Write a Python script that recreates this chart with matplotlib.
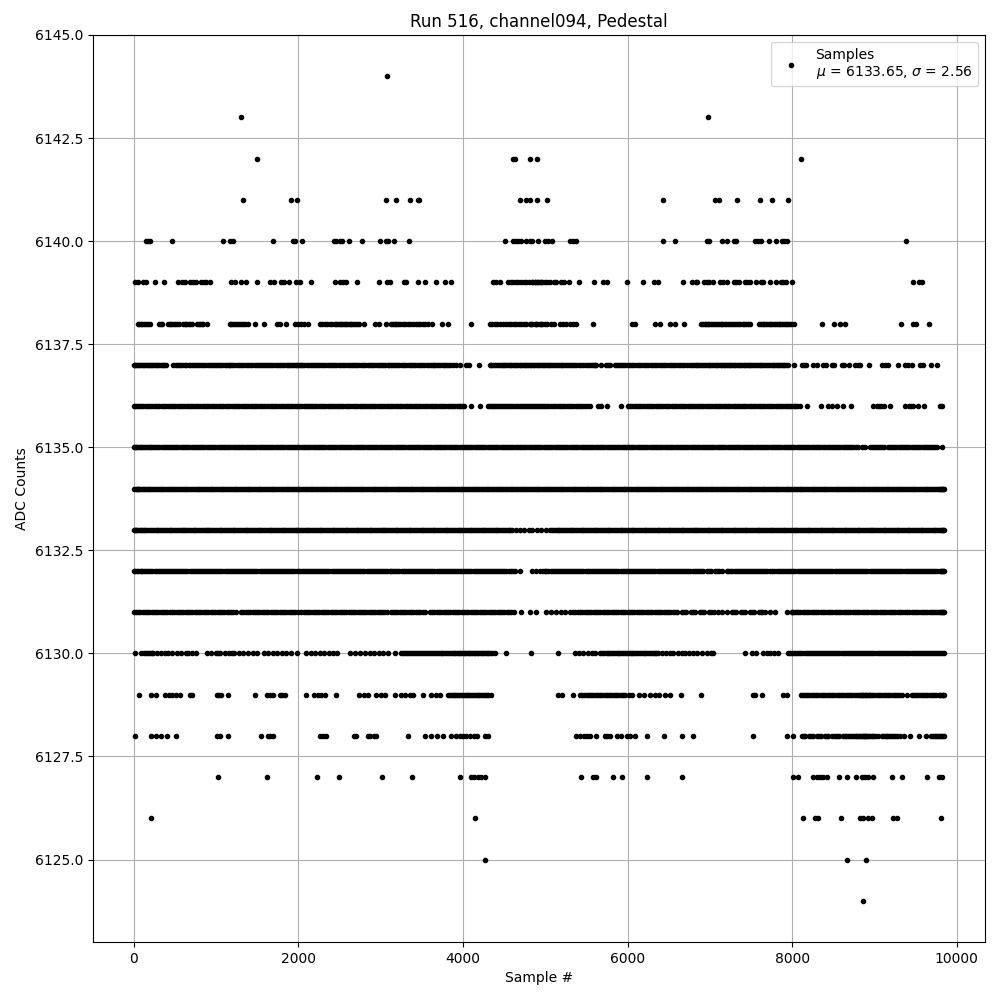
import matplotlib
matplotlib.use("Agg")
import matplotlib.pyplot as plt

s6144 = [3078]
s6143 = [1308, 6980]
s6142 = [1503, 4610, 4630, 4810, 4895, 8110]
s6141 = [1332, 4698, 4763, 4820, 4905, 5024, 1912, 1980, 3070, 3190, 3362, 3450, 3470, 6433, 7065, 7114, 7332, 7612, 7758, 7952]
s6140 = [154, 174, 202, 470, 1089, 1175, 1207, 1697, 1936, 1964, 2049, 2430, 2462, 2503, 2535, 2620, 2778, 2997,
         3062, 3086, 3159, 3349, 4516, 4609, 4641, 4670, 4702, 4763, 4820, 4844, 4915, 4996, 5036, 5077, 5307, 5340,
         5372, 6433, 6579, 6960, 6988, 7146, 7203, 7292, 7316, 7547, 7580, 7620, 7721, 7806, 7871, 7904, 7932, 9386]
s6139 = [20, 53, 113, 154, 263, 373, 539, 591, 620, 689, 721, 761, 822, 850, 883, 923, 1187, 1227, 1308, 1361, 1503,
         1652, 1701, 1794, 1822, 1883, 1976, 2017, 2150, 2450, 2511, 2543, 2584, 2717, 2985, 3078, 3110, 3280, 3313,
         3459, 3544, 3669, 3783, 3852, 4366, 4406, 4455, 4548, 4580, 4609, 4641, 4673, 4710, 4738, 4771, 4803, 4835,
         4871, 4912, 4953, 4845, 4874, 4904, 4935, 4965, 4996, 5025, 5056, 5105, 5137, 5198, 5230, 5291, 5413, 5595,
         5704, 5757, 5996, 6190, 6320, 6365, 6680, 6778, 6826, 6846, 6927, 6960, 6992, 7033, 7122, 7154, 7211, 7292,
         7324, 7356, 7426, 7454, 7486, 7555, 7616, 7648, 7729, 7798, 7859, 7891, 7924, 7993, 9471, 9544, 9572]
s6138 = [53, 85, 121, 154, 202, 308, 348, 417, 458, 498, 547, 599, 640, 680, 713, 770, 810, 842, 891, 1166, 1207, 1255,
         1300, 1349, 1389, 1470, 1580, 1741, 1774, 1855, 1960, 1997, 2037, 2066, 2122, 2268, 2321, 2381, 2442, 2483,
         2523, 2564, 2604, 2645, 2685, 2734, 2795, 2928, 2981, 3070, 3131, 3171, 3212, 3272, 3333, 3394, 3455, 3515,
         3576, 3629, 3746, 3819, 4103, 4325, 4386, 4455, 4528, 4589, 4650, 4710, 4771, 4832, 4892, 4953, 4813, 4846,
         4874, 4902, 4935, 4967, 4996, 5024, 5076, 5105, 5186, 5218, 5259, 5299, 5332, 5372, 5583, 6049, 6089, 6332,
         6393, 6514, 6575, 6684, 6895, 6936, 6976, 7017, 7057, 7110, 7150, 7199, 7239, 7288, 7340, 7401, 7442, 7490,
         7600, 7640, 7685, 7725, 7770, 7815, 7855, 7900, 7940, 7985, 8020, 8360, 8514, 8585, 8646, 9324, 9470, 9510, 9662]
s6137 = [0, 35, 72, 110, 148, 190, 228, 270, 312, 352, 395, 478, 518, 565, 620, 668, 720, 770, 815, 870, 925, 975, 1030,
         1080, 1130, 1175, 1225, 1280, 1335, 1385, 1440, 1495, 1550, 1600, 1650, 1700, 1750, 1805, 1860, 1905, 1950, 1985,
         2030, 2075, 2130, 2180, 2225, 2275, 2330, 2385, 2440, 2490, 2545, 2600, 2655, 2705, 2760, 2815, 2870, 2925,
         2980, 3030, 3085, 3130, 3175, 3230, 3285, 3340, 3395, 3450, 3505, 3560, 3615, 3655, 3677, 3725, 3758, 3799, 3850,
         3885, 3920, 3960, 4042, 4070, 4196, 4325, 4370, 4415, 4460, 4505, 4545, 4590, 4630, 4670, 4710, 4750, 4790, 4830,
         4870, 4910, 4950, 4990, 5030, 5075, 5120, 5165, 5210, 5255, 5305, 5355, 5405, 5460, 5515, 5570, 5623, 5684, 5735,
         5785, 5846, 5900, 5950, 6005, 6060, 6115, 6170, 6225, 6280, 6335, 6390, 6445, 6500, 6555, 6610, 6665, 6717, 6757,
         6805, 6850, 6895, 6940, 6985, 7025, 7070, 7110, 7150, 7190, 7230, 7270, 7310, 7350, 7390, 7430, 7470, 7515, 7560,
         7605, 7650, 7695, 7740, 7785, 7825, 7865, 7905, 7952, 8020, 8114, 8140, 8170, 8250, 8296, 8380, 8410, 8480, 8507,
         8600, 8625, 8693, 8762, 8795, 8823, 8928, 9086, 9125, 9167, 9289, 9370, 9410, 9450, 9552, 9592, 9686, 9763]
s6136 = [0, 45, 95, 150, 205, 260, 315, 370, 425, 480, 535, 590, 645, 700, 755, 810, 865, 920, 975, 1037, 1065, 1120,
         1175, 1230, 1285, 1340, 1395, 1450, 1505, 1560, 1620, 1652, 1710, 1765, 1820, 1875, 1930, 1985, 2040, 2095, 2145,
         2191, 2219, 2275, 2330, 2385, 2440, 2495, 2550, 2605, 2660, 2715, 2770, 2825, 2880, 2935, 2990, 3045, 3100, 3155,
         3210, 3265, 3320, 3375, 3430, 3485, 3540, 3595, 3650, 3705, 3760, 3815, 3870, 3925, 3970, 4010, 4103, 4204, 4305,
         4350, 4395, 4440, 4490, 4540, 4590, 4640, 4690, 4740, 4790, 4840, 4890, 4940, 4990, 5040, 5095, 5150, 5205, 5260,
         5315, 5370, 5425, 5480, 5542, 5644, 5684, 5753, 5927, 6008, 6060, 6115, 6170, 6231, 6263, 6315, 6370, 6425, 6480,
         6535, 6590, 6645, 6700, 6755, 6810, 6865, 6920, 6975, 7030, 7085, 7140, 7195, 7250, 7305, 7360, 7415, 7470, 7525,
         7580, 7635, 7690, 7745, 7800, 7855, 7910, 7965, 8020, 8060, 8094, 8183, 8349, 8438, 8490, 8539, 8612, 8709, 8985,
         9030, 9075, 9114, 9187, 9370, 9420, 9471, 9532, 9605, 9800, 9820]
s6135 = [0, 30, 65, 105, 150, 195, 240, 290, 340, 390, 440, 495, 545, 600, 650, 705, 755, 810, 860, 915, 965, 1020, 1070,
         1125, 1175, 1230, 1280, 1335, 1385, 1440, 1490, 1545, 1595, 1650, 1700, 1755, 1805, 1860, 1910, 1965, 2015, 2070,
         2120, 2175, 2225, 2280, 2330, 2385, 2435, 2490, 2540, 2595, 2645, 2700, 2750, 2805, 2855, 2910, 2960, 3015, 3065,
         3120, 3170, 3225, 3275, 3330, 3380, 3435, 3485, 3540, 3590, 3645, 3695, 3750, 3800, 3855, 3905, 3960, 4010, 4065,
         4115, 4170, 4220, 4275, 4325, 4380, 4430, 4485, 4535, 4590, 4640, 4695, 4745, 4800, 4850, 4905, 4955, 5010, 5060,
         5115, 5165, 5220, 5270, 5325, 5375, 5430, 5480, 5535, 5585, 5640, 5690, 5745, 5795, 5850, 5900, 5955, 6005, 6060,
         6110, 6165, 6215, 6270, 6320, 6375, 6425, 6480, 6530, 6585, 6635, 6690, 6740, 6795, 6845, 6900, 6950, 7005, 7055,
         7110, 7160, 7215, 7265, 7320, 7370, 7425, 7475, 7530, 7580, 7635, 7685, 7740, 7790, 7845, 7895, 7950, 8000, 8055,
         8105, 8160, 8210, 8265, 8315, 8370, 8395, 8430, 8480, 8535, 8585, 8640, 8690, 8745, 8800, 8845, 8885, 8940, 8990,
         9040, 9090, 9115, 9160, 9210, 9265, 9320, 9370, 9425, 9475, 9530, 9585, 9640, 9690, 9740, 9763, 9815]
s6134 = [0, 25, 55, 90, 130, 170, 215, 260, 305, 350, 395, 440, 485, 530, 575, 620, 665, 710, 755, 800, 845, 890, 935, 980,
         1025, 1070, 1115, 1160, 1205, 1250, 1295, 1340, 1385, 1430, 1475, 1520, 1565, 1610, 1655, 1700, 1745, 1790, 1835,
         1880, 1925, 1970, 2015, 2060, 2105, 2150, 2195, 2240, 2285, 2330, 2375, 2420, 2465, 2510, 2555, 2600, 2645, 2690,
         2735, 2780, 2825, 2870, 2915, 2960, 3005, 3050, 3095, 3140, 3185, 3230, 3275, 3320, 3365, 3410, 3455, 3500, 3545,
         3590, 3635, 3680, 3725, 3770, 3815, 3860, 3905, 3950, 3995, 4040, 4085, 4130, 4175, 4220, 4265, 4310, 4355, 4400,
         4445, 4490, 4535, 4580, 4625, 4670, 4715, 4760, 4805, 4850, 4895, 4940, 4985, 5030, 5075, 5120, 5165, 5210, 5255,
         5300, 5345, 5390, 5435, 5480, 5525, 5570, 5615, 5660, 5705, 5750, 5795, 5840, 5885, 5930, 5975, 6020, 6065, 6110,
         6155, 6200, 6245, 6290, 6335, 6380, 6425, 6470, 6515, 6560, 6605, 6650, 6695, 6740, 6785, 6830, 6875, 6920, 6965,
         7010, 7055, 7100, 7145, 7190, 7235, 7280, 7325, 7370, 7415, 7460, 7505, 7550, 7595, 7640, 7685, 7730, 7775, 7820,
         7865, 7910, 7955, 8000, 8045, 8090, 8135, 8180, 8225, 8270, 8315, 8360, 8405, 8450, 8495, 8540, 8585, 8630, 8675,
         8720, 8765, 8810, 8855, 8900, 8945, 8990, 9035, 9080, 9125, 9170, 9215, 9260, 9305, 9350, 9395, 9440, 9485, 9530,
         9575, 9620, 9665, 9710, 9755, 9800, 9825, 9850]
s6133 = [0, 30, 65, 105, 145, 190, 235, 280, 325, 370, 415, 460, 505, 550, 595, 640, 685, 730, 775, 820, 865, 910, 955,
         1000, 1045, 1090, 1135, 1180, 1225, 1270, 1315, 1360, 1405, 1450, 1495, 1540, 1585, 1630, 1675, 1720, 1765, 1810,
         1855, 1900, 1945, 1990, 2035, 2080, 2125, 2170, 2215, 2260, 2305, 2350, 2395, 2440, 2485, 2530, 2575, 2620, 2665,
         2710, 2755, 2800, 2845, 2890, 2935, 2980, 3025, 3070, 3115, 3160, 3205, 3250, 3295, 3340, 3385, 3430, 3475, 3520,
         3565, 3610, 3655, 3700, 3745, 3790, 3835, 3880, 3925, 3970, 4015, 4060, 4105, 4150, 4195, 4240, 4285, 4330, 4375,
         4420, 4465, 4510, 4555, 4600, 4645, 4690, 4745, 4800, 4845, 4900, 4955, 5010, 5060, 5105, 5150, 5195, 5240, 5285,
         5330, 5375, 5420, 5465, 5510, 5555, 5600, 5645, 5690, 5735, 5780, 5825, 5870, 5915, 5960, 6005, 6050, 6095, 6140,
         6185, 6230, 6275, 6320, 6365, 6410, 6455, 6500, 6545, 6590, 6635, 6680, 6725, 6770, 6815, 6860, 6905, 6950, 6995,
         7040, 7085, 7130, 7175, 7220, 7265, 7310, 7355, 7400, 7445, 7490, 7535, 7580, 7625, 7670, 7715, 7760, 7805, 7850,
         7895, 7940, 7985, 8030, 8075, 8120, 8165, 8210, 8255, 8300, 8345, 8390, 8435, 8480, 8525, 8570, 8615, 8660, 8705,
         8750, 8795, 8840, 8885, 8930, 8975, 9020, 9065, 9110, 9155, 9200, 9245, 9290, 9335, 9380, 9425, 9470, 9515, 9560,
         9605, 9650, 9695, 9740, 9785, 9825, 9850]
s6132 = [0, 40, 85, 130, 180, 230, 280, 330, 380, 430, 480, 530, 580, 630, 680, 730, 780, 830, 880, 930, 980, 1030, 1080,
         1130, 1180, 1230, 1280, 1330, 1380, 1430, 1480, 1530, 1580, 1630, 1680, 1730, 1780, 1830, 1880, 1930, 1980, 2030,
         2080, 2130, 2180, 2230, 2280, 2330, 2380, 2430, 2480, 2530, 2580, 2630, 2680, 2730, 2780, 2830, 2880, 2930, 2980,
         3030, 3075, 3110, 3131, 3180, 3230, 3280, 3330, 3380, 3430, 3480, 3530, 3580, 3630, 3680, 3730, 3780, 3830, 3880,
         3930, 3980, 4030, 4080, 4130, 4180, 4230, 4280, 4330, 4380, 4430, 4480, 4530, 4580, 4630, 4690, 4845, 4890, 4935,
         4973, 4995, 5015, 5065, 5115, 5165, 5215, 5265, 5315, 5365, 5415, 5465, 5515, 5565, 5615, 5665, 5715, 5765, 5815,
         5865, 5915, 5965, 6015, 6065, 6115, 6165, 6215, 6265, 6315, 6365, 6415, 6465, 6515, 6565, 6615, 6665, 6715, 6765,
         6815, 6865, 6915, 6965, 7015, 7065, 7115, 7142, 7203, 7250, 7300, 7350, 7400, 7450, 7500, 7550, 7600, 7650, 7700,
         7750, 7810, 7843, 7890, 7940, 7990, 8040, 8090, 8140, 8190, 8240, 8290, 8340, 8390, 8440, 8490, 8540, 8590, 8640,
         8690, 8740, 8790, 8840, 8890, 8940, 8990, 9040, 9090, 9140, 9190, 9240, 9290, 9340, 9390, 9440, 9490, 9540, 9590,
         9640, 9690, 9740, 9790, 9825, 9850]
s6131 = [0, 55, 110, 165, 220, 275, 330, 385, 440, 495, 550, 605, 660, 715, 770, 825, 880, 935, 990, 1045, 1100, 1155,
         1205, 1247, 1308, 1360, 1415, 1470, 1525, 1580, 1635, 1690, 1745, 1800, 1855, 1910, 1960, 1997, 2037, 2090, 2145,
         2200, 2255, 2310, 2365, 2420, 2475, 2530, 2585, 2640, 2690, 2726, 2746, 2800, 2855, 2910, 2965, 3020, 3075, 3131,
         3151, 3205, 3260, 3315, 3370, 3425, 3480, 3535, 3596, 3629, 3680, 3735, 3790, 3845, 3900, 3955, 4010, 4065, 4120,
         4175, 4230, 4285, 4340, 4395, 4450, 4505, 4560, 4617, 4710, 4811, 4892, 5016, 5075, 5135, 5198, 5239, 5300, 5340,
         5395, 5450, 5505, 5560, 5615, 5670, 5725, 5780, 5835, 5890, 5945, 6000, 6055, 6110, 6165, 6220, 6275, 6330, 6385,
         6440, 6495, 6550, 6605, 6660, 6715, 6770, 6825, 6880, 6935, 6990, 7045, 7100, 7142, 7203, 7264, 7320, 7375, 7430,
         7485, 7540, 7595, 7628, 7669, 7730, 7790, 7932, 7993, 8045, 8100, 8155, 8210, 8265, 8320, 8375, 8430, 8485, 8540,
         8595, 8650, 8705, 8760, 8815, 8870, 8925, 8980, 9035, 9090, 9145, 9200, 9255, 9310, 9365, 9420, 9475, 9530, 9585,
         9640, 9695, 9750, 9800, 9825, 9850]
s6130 = [20, 93, 154, 200, 240, 280, 330, 377, 417, 470, 525, 580, 632, 660, 710, 761, 891, 945, 1000, 1055, 1110, 1165,
         1220, 1275, 1328, 1389, 1445, 1500, 1580, 1632, 1690, 1745, 1800, 1850, 1915, 1985, 2098, 2150, 2199, 2260, 2315,
         2370, 2422, 2475, 2624, 2685, 2746, 2807, 2867, 2925, 2980, 3035, 3090, 3171, 3252, 3300, 3345, 3395, 3440, 3490,
         3540, 3590, 3640, 3685, 3730, 3775, 3820, 3865, 3910, 3950, 3990, 4030, 4070, 4110, 4150, 4190, 4230, 4270, 4310,
         4350, 4386, 4524, 4832, 5150, 5360, 5415, 5465, 5515, 5563, 5603, 5664, 5696, 5745, 5790, 5835, 5880, 5925, 5970,
         6015, 6060, 6105, 6150, 6195, 6240, 6285, 6332, 6373, 6420, 6465, 6514, 6555, 6615, 6660, 6700, 6750, 6800, 6850,
         6910, 6960, 7020, 7041, 7426, 7507, 7559, 7648, 7690, 7735, 7780, 7830, 7952, 8000, 8050, 8100, 8150, 8200, 8250,
         8300, 8350, 8400, 8450, 8500, 8550, 8600, 8650, 8700, 8750, 8800, 8850, 8900, 8950, 9000, 9050, 9100, 9150, 9200,
         9250, 9300, 9350, 9400, 9450, 9500, 9550, 9600, 9650, 9700, 9750, 9800, 9850]
s6129 = [61, 215, 275, 377, 425, 470, 510, 567, 680, 713, 1012, 1040, 1065, 1150, 1478, 1620, 1652, 1697, 1774, 1805, 1835,
         2098, 2187, 2235, 2280, 2321, 2462, 2738, 2794, 2847, 2940, 3009, 3050, 3179, 3252, 3293, 3353, 3394, 3515, 3617,
         3669, 3726, 3819, 3865, 3910, 3955, 4000, 4045, 4090, 4135, 4180, 4225, 4270, 4310, 4346, 5158, 5206, 5332, 5421,
         5475, 5530, 5585, 5640, 5695, 5750, 5805, 5860, 5915, 5970, 6015, 6049, 6142, 6200, 6279, 6332, 6385, 6450, 6514,
         6652, 6895, 7519, 7547, 7628, 7891, 7932, 8102, 8155, 8210, 8265, 8320, 8375, 8430, 8485, 8540, 8595, 8650, 8705,
         8760, 8815, 8850, 8880, 8910, 8945, 9000, 9055, 9110, 9165, 9220, 9275, 9330, 9390, 9450, 9505, 9560, 9615, 9670,
         9725, 9780, 9815, 9850]
s6128 = [20, 215, 275, 328, 409, 510, 1012, 1053, 1150, 1551, 1632, 1662, 1693, 2260, 2300, 2341, 2673, 2697, 2847, 2875,
         2920, 2948, 3337, 3544, 3617, 3686, 3758, 3860, 3920, 3960, 4000, 4042, 4085, 4130, 4170, 4265, 4305, 5380, 5425,
         5470, 5510, 5542, 5623, 5725, 5755, 5785, 5874, 5927, 5988, 6028, 6093, 6239, 6445, 6664, 6798, 7527, 7940, 8013,
         8114, 8160, 8205, 8250, 8300, 8345, 8395, 8440, 8479, 8520, 8570, 8615, 8660, 8705, 8750, 8790, 8830, 8860, 8885,
         8915, 8945, 8985, 9040, 9090, 9135, 9180, 9230, 9270, 9310, 9355, 9430, 9535, 9630, 9690, 9730, 9770, 9810, 9850]
s6127 = [1029, 1624, 2232, 2499, 3021, 3386, 3961, 4103, 4140, 4185, 4225, 4265, 5437, 5583, 5623, 5818, 5935, 6239, 6664,
         8013, 8074, 8256, 8300, 8340, 8380, 8418, 8572, 8669, 8770, 8843, 8880, 8920, 8985, 9216, 9329, 9633, 9787, 9820]
s6126 = [215, 4143, 8134, 8276, 8317, 8596, 8823, 8860, 8924, 8965, 9228, 9268, 9803]
s6125 = [4265, 8669, 8900]
s6124 = [8864]

more6138 = [70, 102, 175, 328, 438, 478, 522, 622, 660, 790, 826, 1186, 1228, 1278, 1325, 2295, 2352, 2412, 2462, 2503,
            2544, 2585, 2625, 2665, 2710, 3152, 3192, 3242, 3302, 3364, 3425, 3485, 3546, 4356, 4420, 4490, 4558, 4620,
            4680, 4740, 6915, 6956, 6996, 7037, 7083, 7130, 7175, 7219, 7264, 7314, 7370, 7421, 7466, 7620, 7662, 7705,
            7748, 7792, 7835, 7878, 7920, 7962]
more6137 = [15, 90, 170, 250, 330, 590, 695, 845, 950, 1055, 1155, 1255, 1360, 1470, 1575, 1675, 1780, 1880, 1968, 2052,
            2155, 2250, 2360, 2465, 2570, 2680, 2785, 2895, 3005, 3108, 3205, 3315, 3420, 3530, 3635, 3825, 4345, 4438, 4525,
            4610, 4690, 4770, 4850, 4930, 5010, 5098, 5190, 5280, 5380, 5490, 5595, 5875, 5975, 6085, 6195, 6310, 6420,
            6530, 6640, 6780, 6870, 6960, 7048, 7130, 7210, 7290, 7370, 7450, 7535, 7625, 7715, 7805, 7885, 7930]
extra6137 = [52, 130, 210, 290, 372, 542, 642, 745, 792, 900, 1000, 1105, 1200, 1308, 1412, 1522, 1625, 1725, 1832, 1928,
             2008, 2102, 2205, 2302, 2412, 2518, 2628, 2732, 2842, 2952, 3058, 3152, 3258, 3368, 3478, 3588, 3700, 3775,
             4392, 4482, 4568, 4650, 4730, 4810, 4890, 4970, 5052, 5142, 5232, 5330, 5432, 5542, 5600, 5760, 5925, 6032,
             6142, 6252, 6362, 6472, 6582, 6690, 6828, 6918, 7004, 7090, 7170, 7250, 7330, 7410, 7492, 7582, 7672, 7762,
             7845]
more6136 = [20, 120, 230, 345, 450, 560, 675, 785, 895, 1005, 1145, 1260, 1370, 1480, 1590, 1735, 1850, 1960, 2070, 2170,
            2300, 2415, 2525, 2635, 2745, 2855, 2965, 3075, 3185, 3295, 3405, 3515, 3625, 3735, 3845, 3950, 4372, 4465, 4565,
            4665, 4765, 4865, 4965, 5065, 5175, 5290, 5400, 5510, 6035, 6145, 6290, 6400, 6510, 6620, 6730, 6840, 6950,
            7060, 7170, 7280, 7390, 7500, 7610, 7720, 7830, 7940, 8040, 9050, 9445]
extra6136 = [70, 178, 288, 398, 508, 618, 728, 838, 948, 1092, 1202, 1312, 1422, 1532, 1682, 1792, 1902, 2012, 2122, 2248,
             2358, 2468, 2578, 2688, 2798, 2908, 3018, 3128, 3238, 3348, 3458, 3568, 3678, 3788, 3898, 3990, 4328, 4418,
             4515, 4615, 4715, 4815, 4915, 5015, 5122, 5232, 5342, 5452, 6088, 6200, 6342, 6452, 6562, 6672, 6782, 6892,
             7002, 7112, 7222, 7332, 7442, 7552, 7662, 7772, 7882, 7992]
more6135 = [15, 48, 85, 128, 172, 218, 265, 315, 365, 415, 468, 520, 572, 625, 678, 730, 782, 835, 888, 940, 992, 1045,
            1098, 1150, 1202, 1255, 1308, 1360, 1412, 1465, 1518, 1570, 1622, 1675, 1728, 1780, 1832, 1885, 1938, 1990,
            2042, 2095, 2148, 2200, 2252, 2305, 2358, 2410, 2462, 2515, 2568, 2620, 2672, 2725, 2778, 2830, 2882, 2935,
            2988, 3040, 3092, 3145, 3198, 3250, 3302, 3355, 3408, 3460, 3512, 3565, 3618, 3670, 3722, 3775, 3828, 3880,
            3932, 3985, 4038, 4090, 4142, 4195, 4248, 4300, 4352, 4405, 4458, 4510, 4562, 4615, 4668, 4720, 4772, 4825,
            4878, 4930, 4982, 5035, 5088, 5140, 5192, 5245, 5298, 5350, 5402, 5455, 5508, 5560, 5612, 5665, 5718, 5770,
            5822, 5875, 5928, 5980, 6032, 6085, 6138, 6190, 6242, 6295, 6348, 6400, 6452, 6505, 6558, 6610, 6662, 6715,
            6768, 6820, 6872, 6925, 6978, 7030, 7082, 7135, 7188, 7240, 7292, 7345, 7398, 7450, 7502, 7555, 7608, 7660,
            7712, 7765, 7818, 7870, 7922, 7975, 8028, 8080, 8132, 8185, 8238, 8290, 8342, 8455, 8508, 8560, 8612, 8665,
            8718, 8772, 8965, 9015, 9065, 9185, 9238, 9292, 9345, 9398, 9450, 9502, 9558, 9612, 9665, 9715]
more6134 = [40, 72, 110, 150, 192, 238, 282, 328, 372, 418, 462, 508, 552, 598, 642, 688, 732, 778, 822, 868, 912, 958,
            1002, 1048, 1092, 1138, 1182, 1228, 1272, 1318, 1362, 1408, 1452, 1498, 1542, 1588, 1632, 1678, 1722, 1768,
            1812, 1858, 1902, 1948, 1992, 2038, 2082, 2128, 2172, 2218, 2262, 2308, 2352, 2398, 2442, 2488, 2532, 2578,
            2622, 2668, 2712, 2758, 2802, 2848, 2892, 2938, 2982, 3028, 3072, 3118, 3162, 3208, 3252, 3298, 3342, 3388,
            3432, 3478, 3522, 3568, 3612, 3658, 3702, 3748, 3792, 3838, 3882, 3928, 3972, 4018, 4062, 4108, 4152, 4198,
            4242, 4288, 4332, 4378, 4422, 4468, 4512, 4558, 4602, 4648, 4692, 4738, 4782, 4828, 4872, 4918, 4962, 5008,
            5052, 5098, 5142, 5188, 5232, 5278, 5322, 5368, 5412, 5458, 5502, 5548, 5592, 5638, 5682, 5728, 5772, 5818,
            5862, 5908, 5952, 5998, 6042, 6088, 6132, 6178, 6222, 6268, 6312, 6358, 6402, 6448, 6492, 6538, 6582, 6628,
            6672, 6718, 6762, 6808, 6852, 6898, 6942, 6988, 7032, 7078, 7122, 7168, 7212, 7258, 7302, 7348, 7392, 7438,
            7482, 7528, 7572, 7618, 7662, 7708, 7752, 7798, 7842, 7888, 7932, 7978, 8022, 8068, 8112, 8158, 8202, 8248,
            8292, 8338, 8382, 8428, 8472, 8518, 8562, 8608, 8652, 8698, 8742, 8788, 8832, 8878, 8922, 8968, 9012, 9058,
            9102, 9148, 9192, 9238, 9282, 9328, 9372, 9418, 9462, 9508, 9552, 9598, 9642, 9688, 9732, 9778, 9812, 9838]
more6133 = [15, 48, 85, 125, 168, 212, 258, 302, 348, 392, 438, 482, 528, 572, 618, 662, 708, 752, 798, 842, 888, 932, 978,
            1022, 1068, 1112, 1158, 1202, 1248, 1292, 1338, 1382, 1428, 1472, 1518, 1562, 1608, 1652, 1698, 1742, 1788,
            1832, 1878, 1922, 1968, 2012, 2058, 2102, 2148, 2192, 2238, 2282, 2328, 2372, 2418, 2462, 2508, 2552, 2598,
            2642, 2688, 2732, 2778, 2822, 2868, 2912, 2958, 3002, 3048, 3092, 3138, 3182, 3228, 3272, 3318, 3362, 3408,
            3452, 3498, 3542, 3588, 3632, 3678, 3722, 3768, 3812, 3858, 3902, 3948, 3992, 4038, 4082, 4128, 4172, 4218,
            4262, 4308, 4352, 4398, 4442, 4488, 4532, 4578, 5082, 5128, 5172, 5218, 5262, 5308, 5352, 5398, 5442, 5488,
            5532, 5578, 5622, 5668, 5712, 5758, 5802, 5848, 5892, 5938, 5982, 6028, 6072, 6118, 6162, 6208, 6252, 6298,
            6342, 6388, 6432, 6478, 6522, 6568, 6612, 6658, 6702, 6748, 6792, 6838, 6882, 6928, 6972, 7018, 7062, 7108,
            7152, 7198, 7242, 7288, 7332, 7378, 7422, 7468, 7512, 7558, 7602, 7648, 7692, 7738, 7782, 7828, 7872, 7918,
            7962, 8008, 8052, 8098, 8142, 8188, 8232, 8278, 8322, 8368, 8412, 8458, 8502, 8548, 8592, 8638, 8682, 8728,
            8772, 8818, 8862, 8908, 8952, 8998, 9042, 9088, 9132, 9178, 9222, 9268, 9312, 9358, 9402, 9448, 9492, 9538,
            9582, 9628, 9672, 9718, 9762, 9805, 9838]
more6132 = [20, 62, 108, 155, 205, 305, 405, 505, 605, 705, 805, 905, 1005, 1105, 1205, 1305, 1405, 1505, 1605, 1705, 1805,
            1905, 2005, 2105, 2205, 2305, 2405, 2505, 2605, 2705, 2805, 2905, 3005, 3155, 3255, 3355, 3455, 3555, 3655,
            3755, 3855, 3955, 4055, 4155, 4255, 4355, 4455, 4555, 5040, 5140, 5240, 5340, 5440, 5540, 5640, 5740, 5840,
            5940, 6040, 6140, 6240, 6340, 6440, 6540, 6640, 6740, 6840, 7225, 7325, 7425, 7525, 7625, 7725, 7865, 7965,
            8065, 8165, 8265, 8365, 8465, 8565, 8665, 8765, 8865, 8965, 9065, 9165, 9265, 9365, 9465, 9565, 9665, 9765, 9810, 9838]
extra6132 = [255, 355, 455, 555, 655, 755, 855, 955, 1055, 1155, 1255, 1355, 1455, 1555, 1655, 1755, 1855, 1955, 2055, 2155,
             2255, 2355, 2455, 2555, 2655, 2755, 2855, 2955, 3055, 3205, 3305, 3405, 3505, 3605, 3705, 3805, 3905, 4005,
             4105, 4205, 4305, 4405, 4505, 4605, 5090, 5190, 5290, 5390, 5490, 5590, 5690, 5790, 5890, 5990, 6090, 6190,
             6290, 6390, 6490, 6590, 6690, 6790, 6890, 6990, 7090, 7275, 7375, 7475, 7575, 7675, 7780, 7915, 8015, 8115,
             8215, 8315, 8415, 8515, 8615, 8715, 8815, 8915, 9015, 9115, 9215, 9315, 9415, 9515, 9615, 9715]
more6131 = [25, 135, 250, 360, 470, 580, 690, 800, 910, 1020, 1130, 1335, 1445, 1555, 1665, 1775, 1885, 2065, 2175, 2285,
            2395, 2505, 2615, 2775, 2885, 2995, 3175, 3290, 3400, 3510, 3655, 3765, 3875, 3985, 4095, 4205, 4315, 4425, 4535,
            5420, 5530, 5640, 5750, 5860, 5970, 6080, 6190, 6300, 6410, 6520, 7995, 8020, 8075, 8130, 8240, 8350, 8460,
            8570, 8680, 8790, 8900, 9010, 9120, 9230, 9340, 9450, 9560, 9670, 9775, 9812, 9838]
extra6131 = [82, 192, 302, 412, 522, 632, 742, 852, 962, 1072, 1180, 1388, 1498, 1608, 1718, 1828, 1935, 2118, 2228, 2338,
             2448, 2558, 2665, 2828, 2938, 3048, 3232, 3342, 3452, 3708, 3818, 3928, 4038, 4148, 4258, 4368, 4478, 4590,
             5368, 5478, 5588, 5698, 5808, 5918, 6028, 6138, 6248, 6358, 6468, 6578, 6688, 6798, 6908, 7018, 7292, 7402,
             7512, 7622, 8185, 8295, 8405, 8515, 8625, 8735, 8845, 8955, 9065, 9175, 9285, 9395, 9505, 9615, 9725]
more6130 = [125, 175, 220, 1030, 1190, 3275, 3322, 3370, 3415, 3465, 3515, 3565, 3615, 3662, 3708, 3752, 3798, 3842, 3888,
            3930, 3970, 4010, 4050, 4090, 4130, 4170, 4210, 4250, 4290, 4330, 5720, 5768, 5812, 5858, 5902, 5948, 5992, 6038,
            6082, 6128, 6172, 6218, 6262, 6308, 6352, 7975, 8025, 8075, 8125, 8175, 8225, 8275, 8325, 8375, 8425, 8475, 8525,
            8575, 8625, 8675, 8725, 8775, 8825, 8875, 8925, 8975, 9025, 9075, 9125, 9175, 9225, 9275, 9325, 9375, 9425,
            9475, 9525, 9575, 9625, 9675, 9725, 9775, 9825]
more6129 = [3842, 3888, 3932, 3978, 4022, 4068, 4112, 4158, 4202, 4248, 4290, 5448, 5502, 5558, 5612, 5668, 5722, 5778,
            5832, 5888, 5942, 8130, 8182, 8238, 8292, 8348, 8402, 8458, 8512, 8568, 8622, 8678, 8732, 8788, 8835, 8865,
            8895, 8928, 8972, 9028, 9082, 9138, 9192, 9248, 9302, 9478, 9532, 9588, 9642, 9698, 9752, 9798, 9832]
more6128 = [8138, 8228, 8322, 8418, 8545, 8638, 8682, 8728, 8770, 8810, 8845, 8872, 8900, 8930, 8965, 9012, 9112, 9158,
            9205, 9250, 9710, 9750, 9790, 9830]

levels = [6144, 6143, 6142, 6141, 6140, 6139, 6138, 6137, 6136, 6135, 6134,
          6133, 6132, 6131, 6130, 6129, 6128, 6127, 6126, 6125, 6124,
          6138, 6137, 6136, 6135, 6134, 6133, 6132, 6131, 6130, 6129, 6128,
          6137, 6136, 6132, 6131]
samples = [s6144, s6143, s6142, s6141, s6140, s6139, s6138, s6137, s6136, s6135, s6134,
           s6133, s6132, s6131, s6130, s6129, s6128, s6127, s6126, s6125, s6124,
           more6138, more6137, more6136, more6135, more6134, more6133, more6132, more6131, more6130, more6129, more6128,
           extra6137, extra6136, extra6132, extra6131]

x = []
y = []
for level, xs in zip(levels, samples):
    x.extend(xs)
    y.extend([level] * len(xs))

fig, ax = plt.subplots(figsize=(10, 10), dpi=100)
ax.plot(x, y, "k.", label="Samples\n$\\mu$ = 6133.65, $\\sigma$ = 2.56")
ax.set_title("Run 516, channel094, Pedestal")
ax.set_xlabel("Sample #")
ax.set_ylabel("ADC Counts")
ax.grid(True)
ax.ticklabel_format(useOffset=False, style="plain", axis="y")
ax.legend(loc="upper right")
fig.subplots_adjust(left=0.093, right=0.985, top=0.965, bottom=0.058)
fig.savefig("out.png", dpi=100)
